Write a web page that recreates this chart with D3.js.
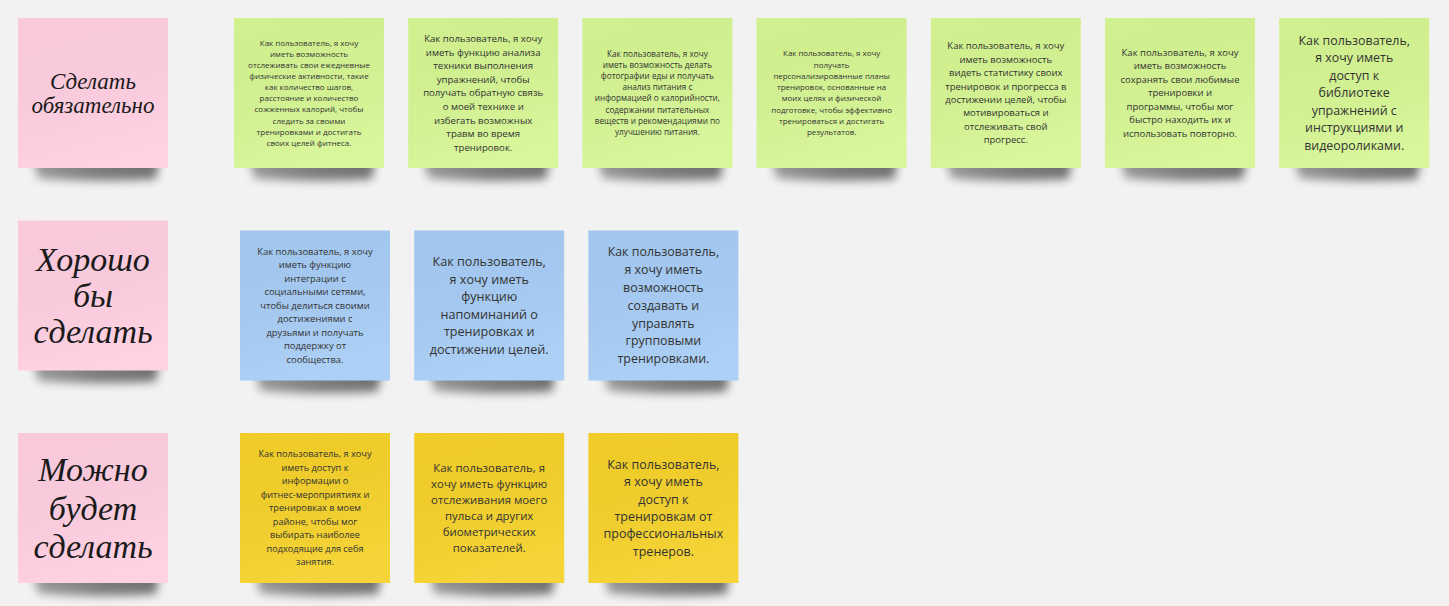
<!DOCTYPE html>
<html><head><meta charset="utf-8">
<script src="https://cdn.jsdelivr.net/npm/d3@7"></script>
<style>
html,body{margin:0;padding:0;background:#f2f2f2;overflow:hidden}
svg{display:block}
</style></head>
<body>
<svg id="board" width="1449" height="606"></svg>
<script>
// ---- data ----
const rowLabels = [
  ["Сделать", "обязательно"],
  ["Хорошо", "бы", "сделать"],
  ["Можно", "будет", "сделать"]
];
const mustHave = [
  "Как пользователь, я хочу|иметь возможность|отслеживать свои ежедневные|физические активности, такие|как количество шагов,|расстояние и количество|сожженных калорий, чтобы|следить за своими|тренировками и достигать|своих целей фитнеса.",
  "Как пользователь, я хочу|иметь функцию анализа|техники выполнения|упражнений, чтобы|получать обратную связь|о моей технике и|избегать возможных|травм во время|тренировок.",
  "Как пользователь, я хочу|иметь возможность делать|фотографии еды и получать|анализ питания с|информацией о калорийности,|содержании питательных|веществ и рекомендациями по|улучшению питания.",
  "Как пользователь, я хочу|получать|персонализированные планы|тренировок, основанные на|моих целях и физической|подготовке, чтобы эффективно|тренироваться и достигать|результатов.",
  "Как пользователь, я хочу|иметь возможность|видеть статистику своих|тренировок и прогресса в|достижении целей, чтобы|мотивироваться и|отслеживать свой|прогресс.",
  "Как пользователь, я хочу|иметь возможность|сохранять свои любимые|тренировки и|программы, чтобы мог|быстро находить их и|использовать повторно.",
  "Как пользователь,|я хочу иметь|доступ к|библиотеке|упражнений с|инструкциями и|видеороликами."
];
const niceToHave = [
  "Как пользователь, я хочу|иметь функцию|интеграции с|социальными сетями,|чтобы делиться своими|достижениями с|друзьями и получать|поддержку от|сообщества.",
  "Как пользователь,|я хочу иметь|функцию|напоминаний о|тренировках и|достижении целей.",
  "Как пользователь,|я хочу иметь|возможность|создавать и|управлять|групповыми|тренировками."
];
const couldHave = [
  "Как пользователь, я хочу|иметь доступ к|информации о|фитнес-мероприятиях и|тренировках в моем|районе, чтобы мог|выбирать наиболее|подходящие для себя|занятия.",
  "Как пользователь, я|хочу иметь функцию|отслеживания моего|пульса и других|биометрических|показателей.",
  "Как пользователь,|я хочу иметь|доступ к|тренировкам от|профессиональных|тренеров."
];
const rowNotes = [mustHave, niceToHave, couldHave];

// ---- styles (kept separate from data) ----
const labelColor = "#ffcee0";
const rowColors = ["#d5f692", "#a6ccf5", "#f5d128"];
const labelFont = [23, 34, 34];
const labelLine = [24, 36, 38.5];
const noteFont = [
  [8, 9.6, 8.2, 7.9, 9.5, 9.5, 12.4],
  [9.4, 12.6, 12.4],
  [9.2, 11.4, 12.5]
];
const noteLine = [
  [11.1, 13.6, 11.1, 11.3, 13.4, 13.5, 17.5],
  [13.5, 17.6, 17.8],
  [13.5, 16, 17.4]
];

// ---- layout via scales ----
const W = 1449, H = 606, S = 150;
const rowY = d3.scaleLinear().domain([0, 2]).range([18, 433]);
const labelDY = [0, -5, 0];
const noteDY = [0, 5, 0];
const colX = d3.scaleLinear().domain([0, 1]).range([0, 174.2]);
const noteStart = [234, 240, 240];
const labelX = 18;

const svg = d3.select("#board").attr("viewBox", `0 0 ${W} ${H}`);
svg.append("rect").attr("width", W).attr("height", H).attr("fill", "#f2f2f2");

const defs = svg.append("defs");
const f = defs.append("filter").attr("id", "sh").attr("x", "-20%").attr("y", "-50%").attr("width", "140%").attr("height", "200%");
f.append("feGaussianBlur").attr("stdDeviation", 5);
const lg = defs.append("linearGradient").attr("id", "shg").attr("x1", 0).attr("x2", 1);
lg.append("stop").attr("offset", 0).attr("stop-color", "#000").attr("stop-opacity", 0.6);
lg.append("stop").attr("offset", 0.5).attr("stop-color", "#000").attr("stop-opacity", 0.8);
lg.append("stop").attr("offset", 1).attr("stop-color", "#000").attr("stop-opacity", 0.9);
const sheen = defs.append("linearGradient").attr("id", "sheen").attr("x1", 0).attr("y1", 0).attr("x2", 0.3).attr("y2", 1);
sheen.append("stop").attr("offset", 0).attr("stop-color", "#000").attr("stop-opacity", 0.02);
sheen.append("stop").attr("offset", 1).attr("stop-color", "#fff").attr("stop-opacity", 0.08);

// flatten to items
const items = [];
rowLabels.forEach((lines, r) => {
  items.push({kind: "label", r, c: 0, x: labelX, y: rowY(r) + labelDY[r], lines,
    fill: labelColor, fs: labelFont[r], lh: labelLine[r]});
});
rowNotes.forEach((notes, r) => {
  notes.forEach((t, c) => {
    items.push({kind: "note", r, c, x: noteStart[r] + colX(c), y: rowY(r) + noteDY[r],
      lines: t.split("|"), fill: rowColors[r], fs: noteFont[r][c], lh: noteLine[r][c]});
  });
});

const g = svg.selectAll("g.sticky").data(items).join("g")
  .attr("class", "sticky")
  .attr("transform", d => `translate(${d.x},${d.y})`);

// shadow
g.append("path")
  .attr("d", `M14,${S - 16} L${S - 8},${S - 16} L${S - 12},${S + 11} Q${S / 2},${S + 15} 20,${S + 10} Z`)
  .attr("fill", "url(#shg)")
  .attr("opacity", 0.6)
  .attr("filter", "url(#sh)");

// paper
g.append("rect").attr("width", S).attr("height", S).attr("fill", d => d.fill);
g.append("rect").attr("width", S).attr("height", S).attr("fill", "url(#sheen)");

// text
g.each(function(d) {
  const sel = d3.select(this);
  const n = d.lines.length;
  const top = S / 2 - (n - 1) * d.lh / 2;
  const txt = sel.append("text")
    .attr("text-anchor", "middle")
    .attr("font-family", d.kind === "label" ? "'Liberation Serif', 'DejaVu Serif', serif" : "'Open Sans', 'Noto Sans', sans-serif")
    .attr("font-style", d.kind === "label" ? "italic" : "normal")
    .attr("font-size", d.fs)
    .attr("fill", d.kind === "label" ? "#1a1a1a" : "#333");
  d.lines.forEach((ln, i) => {
    txt.append("tspan")
      .attr("x", S / 2)
      .attr("y", top + i * d.lh)
      .attr("dy", "0.35em")
      .text(ln);
  });
});
</script>
</body></html>
